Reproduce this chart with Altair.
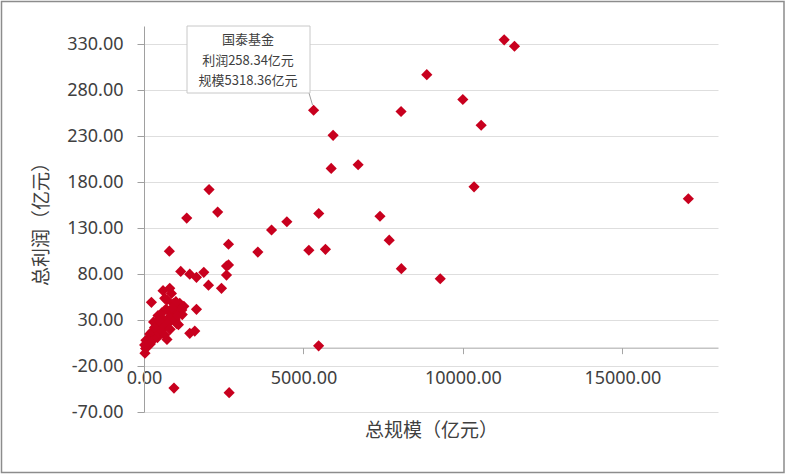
import altair as alt
import pandas as pd

# ---- data ----
scale_vals = [
    # outliers / spread-out points
    11295, 11618, 8868, 9998, 8061, 5318.36, 10573, 5930, 6715, 5870,
    10350, 17070, 2040, 5480, 7400, 4480, 1340, 2310, 4000, 7690,
    2650, 3570, 5170, 5690, 795, 8070, 9290, 5476, 940, 2670,
    # mid cluster
    1152, 1435, 1645, 1875, 2022, 2430, 2587, 2650, 2587, 807,
    597, 650, 860, 232, 1121, 1645, 1435, 1592, 1030, 920, 1185,
    # dense cluster near origin
    30, 50, 80, 120, 60, 150, 200, 250, 180, 300,
    350, 280, 400, 420, 470, 500, 380, 550, 600, 620,
    520, 650, 700, 720, 760, 800, 820, 850, 900, 950,
    980, 1000, 1050, 1100, 1150, 1200, 1250, 1080, 440, 560,
    690, 300, 720, 1000, 100, 20, 330, 480, 880, 1060,
]
profit_vals = [
    335, 328, 297, 270, 257, 258.34, 242, 231, 199, 195,
    175, 162, 172, 146, 143, 137, 141, 147.5, 128, 117,
    112.5, 104, 106, 107, 105, 86, 75, 2, -44, -49,
    83, 80, 76.5, 82, 68, 64.6, 88.8, 90, 79, 64.6,
    62, 53.7, 59, 49.3, 48.3, 41.7, 15.6, 18, 26, 48, 41,
    -6, -1, 3, 6, 8, 10, 4, 12, 15, 9,
    14, 18, 20, 11, 16, 24, 27, 19, 22, 30,
    33, 14, 26, 9, 32, 28, 20, 37, 34, 40,
    30, 44, 38, 47, 42, 36, 45, 25, 35, 38,
    42, 28, 52, 50, 1, 3, 22, 29, 43, 35,
]

ANNOT_NAME = "国泰基金"
ANNOT_PROFIT = 258.34
ANNOT_SCALE = 5318.36

y_ticks = [-70, -20, 30, 80, 130, 180, 230, 280, 330]
x_ticks = [0, 5000, 10000, 15000]

df = pd.DataFrame({"scale": scale_vals, "profit": profit_vals})

W, H = 574, 386
NUM_FONT = "Noto Sans"
CJK_FONT = "Noto Sans CJK SC"
LABEL_COLOR = "#404040"
MARK_RED = "#C8001E"

label_expr = "replace(format(datum.value, '.2f'), '\u2212', '-')"

x_enc = alt.X(
    "scale:Q",
    scale=alt.Scale(domain=[0, 18000], nice=False, zero=False),
    axis=alt.Axis(
        values=x_ticks, labelExpr=label_expr, grid=False, labelFlush=False,
        labelOverlap=False,
        offset=-64.33, domainColor="#a6a6a6", tickColor="#a6a6a6",
        tickSize=6, labelPadding=16, labelFont=NUM_FONT, labelFontSize=18,
        labelColor=LABEL_COLOR, title="总规模（亿元）", titleFont=CJK_FONT,
        titleFontSize=19, titleFontWeight="normal", titleColor=LABEL_COLOR,
        titlePadding=34,
    ),
)
y_enc = alt.Y(
    "profit:Q",
    scale=alt.Scale(domain=[-70, 350], nice=False, zero=False),
    axis=alt.Axis(
        values=y_ticks, labelExpr=label_expr, grid=True, gridColor="#dedede",
        labelFlush=False, labelOverlap=False,
        domainColor="#a0a0a0", tickColor="#a0a0a0", tickSize=7,
        labelPadding=14, labelFont=NUM_FONT, labelFontSize=18,
        labelColor=LABEL_COLOR, title="总利润（亿元）", titleFont=CJK_FONT,
        titleFontSize=19, titleFontWeight="normal", titleColor=LABEL_COLOR,
        titlePadding=15,
    ),
)

points = alt.Chart(df).mark_point(
    shape="diamond", filled=True, size=125, color=MARK_RED, opacity=1
).encode(x=x_enc, y=y_enc)

ann_df = pd.DataFrame({
    "scale": [ANNOT_SCALE],
    "profit": [ANNOT_PROFIT],
    "l1": [ANNOT_NAME],
    "l2": [f"利润{ANNOT_PROFIT:.2f}亿元"],
    "l3": [f"规模{ANNOT_SCALE:.2f}亿元"],
})

leader = alt.Chart(ann_df).mark_rule(color="#a0a0a0", strokeWidth=1).encode(
    x=alt.value(165), y=alt.value(67), x2=alt.value(168.5), y2=alt.value(79)
)
box = alt.Chart(ann_df).mark_rect(
    fill="white", stroke="#c8c8c8", strokeWidth=1
).encode(x=alt.value(43), x2=alt.value(166), y=alt.value(0), y2=alt.value(67))

def ann_text(field, ypix):
    return alt.Chart(ann_df).mark_text(
        font=CJK_FONT, fontSize=13, color=LABEL_COLOR, align="center",
        baseline="middle"
    ).encode(x=alt.value(104), y=alt.value(ypix), text=f"{field}:N")

frame = alt.Chart(ann_df).mark_rect(
    fill=None, stroke="#8c8c8c", strokeWidth=1.5
).encode(x=alt.value(-142.5), x2=alt.value(640), y=alt.value(-24.5), y2=alt.value(446.5))

chart = alt.layer(
    points, leader, box, ann_text("l1", 14), ann_text("l2", 34.5), ann_text("l3", 55), frame
).properties(
    width=W, height=H,
    padding={"left": 144, "top": 26, "right": 68, "bottom": 63},
    autosize=alt.AutoSizeParams(type="none"),
    background="white",
).configure_view(stroke=None)

chart.save("out.html", embed_options={"renderer": "svg", "actions": False})
